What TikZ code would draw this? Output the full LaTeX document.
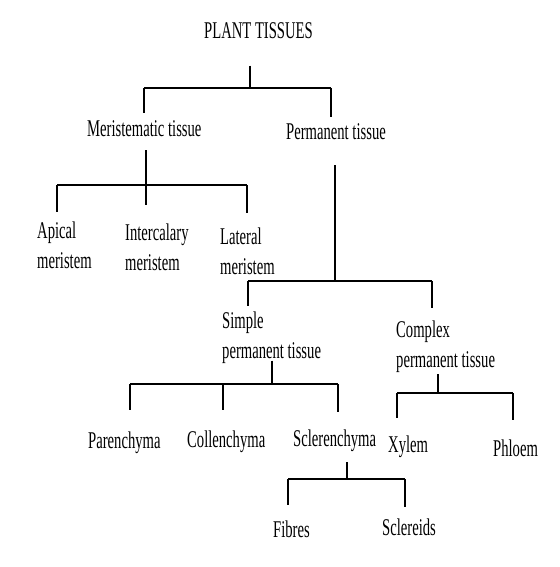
\documentclass[tikz,border=0pt]{standalone}
\usepackage{fontspec}
\setmainfont{Liberation Serif}[FakeStretch=0.61]
\begin{document}
\begin{tikzpicture}[x=1pt,y=-1pt,
        tissue/.style={anchor=north west,inner sep=0pt,align=left,font=\fontsize{24}{30}\selectfont},
        stem/.style={line width=1.2pt},
        bar/.style={line width=2.4pt},
        drop/.style={stem,shorten >=#1}]
            \useasboundingbox (0,0) rectangle (559,567);
            \node[tissue] (PlantTissues) at (204,22) {PLANT TISSUES};
            \node[tissue] (Meristematic) at (87,120.5) {Meristematic tissue};
            \node[tissue] (Permanent) at (286,123.5) {Permanent tissue};
            \node[tissue] (Apical) at (37,221.5) {Apical\\meristem};
            \node[tissue] (Intercalary) at (125,223.5) {Intercalary\\meristem};
            \node[tissue] (Lateral) at (220,227.5) {Lateral\\meristem};
            \node[tissue] (Simple) at (222,311.5) {Simple\\permanent tissue};
            \node[tissue] (Complex) at (396,320.5) {Complex\\permanent tissue};
            \node[tissue] (Parenchyma) at (88,431.5) {Parenchyma};
            \node[tissue] (Collenchyma) at (187,430.5) {Collenchyma};
            \node[tissue] (Sclerenchyma) at (293,429.5) {Sclerenchyma};
            \node[tissue] (Xylem) at (388,435.5) {Xylem};
            \node[tissue] (Phloem) at (493,439.5) {Phloem};
            \node[tissue] (Fibres) at (273,520.5) {Fibres};
            \node[tissue] (Sclereids) at (382,518.5) {Sclereids};
            \coordinate (RootJoint) at (250,88);
            \coordinate (MeriTop) at (144,88);
            \coordinate (PermTop) at (331,88);
            \draw[stem,shorten <=27pt] (PlantTissues.south -| RootJoint) -- (RootJoint);
            \draw[bar] (MeriTop) -- (PermTop);
            \draw[drop=7.5pt] (MeriTop) -- (MeriTop |- Meristematic.north);
            \draw[drop=6.5pt] (PermTop) -- (PermTop |- Permanent.north);
            \coordinate (MeriJoint) at (146,185);
            \coordinate (ApicalTop) at (57,185);
            \coordinate (LateralTop) at (247,185);
            \draw[stem,shorten <=13pt,shorten >=18.5pt] (Meristematic.south -| MeriJoint) -- (MeriJoint |- Intercalary.north);
            \draw[bar] (ApicalTop) -- (LateralTop);
            \draw[drop=9.5pt] (ApicalTop) -- (ApicalTop |- Apical.north);
            \draw[drop=14.5pt] (LateralTop) -- (LateralTop |- Lateral.north);
            \coordinate (PermJoint) at (335,281);
            \coordinate (SimpleTop) at (248,281);
            \coordinate (ComplexTop) at (432,281);
            \draw[stem,shorten <=25pt] (Permanent.south -| PermJoint) -- (PermJoint);
            \draw[bar] (SimpleTop) -- (ComplexTop);
            \draw[drop=5.5pt] (SimpleTop) -- (SimpleTop |- Simple.north);
            \draw[drop=12.5pt] (ComplexTop) -- (ComplexTop |- Complex.north);
            \coordinate (SimpleJoint) at (272,384);
            \coordinate (ParenTop) at (130,384);
            \coordinate (CollenTop) at (223,384);
            \coordinate (SclerTop) at (338,384);
            \draw[stem,shorten <=-3pt] (Simple.south -| SimpleJoint) -- (SimpleJoint);
            \draw[bar] (ParenTop) -- (SclerTop);
            \draw[drop=21.5pt] (ParenTop) -- (ParenTop |- Parenchyma.north);
            \draw[drop=20.5pt] (CollenTop) -- (CollenTop |- Collenchyma.north);
            \draw[drop=17.5pt] (SclerTop) -- (SclerTop |- Sclerenchyma.north);
            \coordinate (ComplexJoint) at (438,393);
            \coordinate (XylemTop) at (397,393);
            \coordinate (PhloemTop) at (513,393);
            \draw[stem,shorten <=1.7pt] (Complex.south -| ComplexJoint) -- (ComplexJoint);
            \draw[bar] (XylemTop) -- (PhloemTop);
            \draw[drop=17.5pt] (XylemTop) -- (XylemTop |- Xylem.north);
            \draw[drop=19.5pt] (PhloemTop) -- (PhloemTop |- Phloem.north);
            \coordinate (SclerJoint) at (347,479);
            \coordinate (FibresTop) at (288,479);
            \coordinate (SclereidsTop) at (405,479);
            \draw[stem,shorten <=10.7pt] (Sclerenchyma.south -| SclerJoint) -- (SclerJoint);
            \draw[bar] (FibresTop) -- (SclereidsTop);
            \draw[drop=15.5pt] (FibresTop) -- (FibresTop |- Fibres.north);
            \draw[drop=11.5pt] (SclereidsTop) -- (SclereidsTop |- Sclereids.north);
        \end{tikzpicture}
\end{document}
